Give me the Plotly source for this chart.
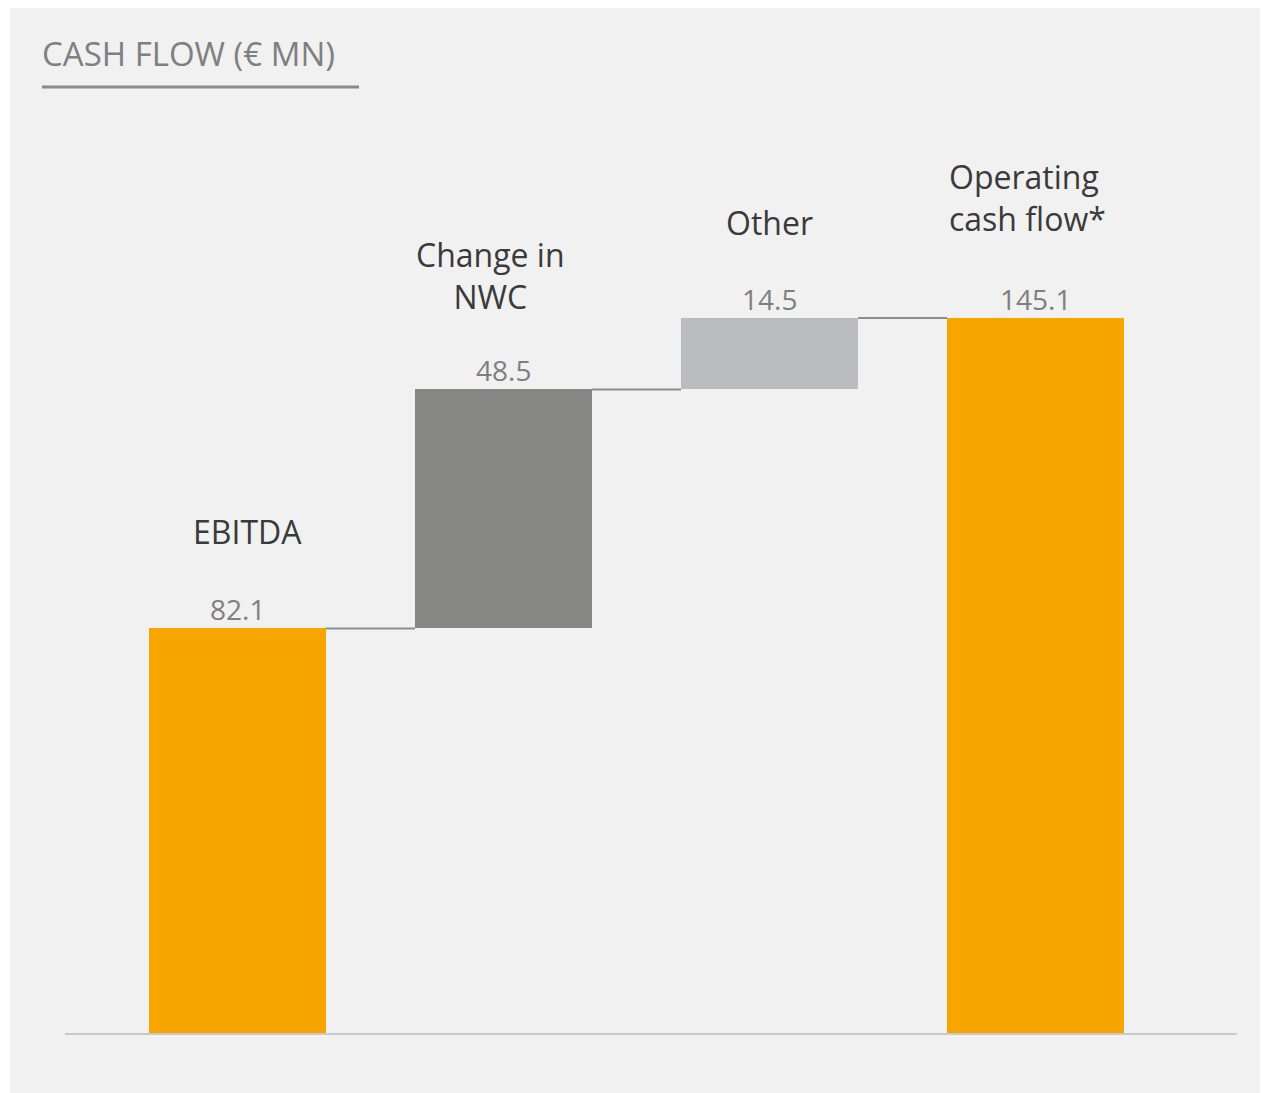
import plotly.graph_objects as go

categories = ["EBITDA", "Change in NWC", "Other", "Operating cash flow*"]
cat_labels = ["EBITDA", "Change in<br>NWC", "Other", "Operating<br>cash flow*"]
values = [82.1, 48.5, 14.5, 145.1]
measures = ["absolute", "relative", "relative", "total"]
value_labels = ["82.1", "48.5", "14.5", "145.1"]
colors = ["#F7A600", "#868685", "#BBBCBD", "#F7A600"]

# compute bases
bases, tops = [], []
run = 0.0
for v, m in zip(values, measures):
    if m == "absolute":
        bases.append(0.0); run = v
    elif m == "relative":
        bases.append(run); run += v
    else:
        bases.append(0.0); run = v
    tops.append(bases[-1] + v)

OFF = 8  # page body margin
W, H = 1268 - OFF, 1093 - OFF
ml, mr, mt, mb = 65 - OFF, 31, 100 - OFF, 60
pw, ph = W - ml - mr, H - mt - mb
px_per_unit = 715 / 145.1
ytop = ph / px_per_unit
bar_w = 177 / 266
xr = [-0.648, 3.757]

def px(x):  # page pixel -> paper
    return (x - OFF - ml) / pw

def py(y):
    return (H - mb - (y - OFF)) / ph

fig = go.Figure()

fig.add_trace(go.Bar(
    x=list(range(len(values))), y=values, base=bases, width=bar_w,
    marker=dict(color=colors, line=dict(width=0)),
    hoverinfo="skip", showlegend=False,
))

# connectors
for i in range(len(values) - 1):
    level = tops[i]
    fig.add_trace(go.Scatter(
        x=[i + bar_w / 2, i + 1 - bar_w / 2], y=[level, level],
        mode="lines", line=dict(color="#8E8E8E", width=2),
        hoverinfo="skip", showlegend=False,
    ))

ann = []
# value labels
for i, t in enumerate(value_labels):
    ann.append(dict(x=i, y=tops[i], xref="x", yref="y", text=t, showarrow=False,
                    yanchor="middle", xanchor="center", yshift=19,
                    font=dict(family="Open Sans", size=28, color="#7F7F7F")))
# category labels
cat_shift = [(10, 97, "center"), (-13, 114, "center"), (0, 96, "center"), (0, 121, "left")]
for i, lab in enumerate(cat_labels):
    xs, ys, anc = cat_shift[i]
    xpos = i if anc == "center" else i - bar_w / 2
    ann.append(dict(x=xpos, y=tops[i], xref="x", yref="y", text=lab, showarrow=False,
                    yanchor="middle", xanchor=anc, align=anc, xshift=xs, yshift=ys,
                    font=dict(family="Open Sans", size=32, color="#3A3A3A")))
# title
ann.append(dict(x=px(40), y=py(54), xref="paper", yref="paper", text="CASH FLOW (€ MN)",
                showarrow=False, xanchor="left", yanchor="middle",
                font=dict(family="Open Sans", size=33, color="#808080")))

shapes = [
    dict(type="rect", xref="paper", yref="paper", x0=px(10), x1=px(1280), y0=py(1100), y1=py(6),
         fillcolor="#F0F1F0", line=dict(width=0), layer="below"),
    dict(type="line", xref="paper", yref="paper", x0=px(42), x1=px(359), y0=py(87), y1=py(87),
         line=dict(color="#8A8A8A", width=3)),
]

fig.update_layout(
    width=W, height=H,
    margin=dict(l=ml, r=mr, t=mt, b=mb),
    paper_bgcolor="white", plot_bgcolor="rgba(0,0,0,0)",
    xaxis=dict(range=xr, showticklabels=False, showgrid=False, zeroline=False,
               showline=True, linecolor="#C9C9C9", linewidth=2, ticks=""),
    yaxis=dict(range=[0, ytop], showticklabels=False, showgrid=False, zeroline=False,
               showline=False),
    annotations=ann, shapes=shapes, bargap=0,
)

fig.write_html("out.html")
